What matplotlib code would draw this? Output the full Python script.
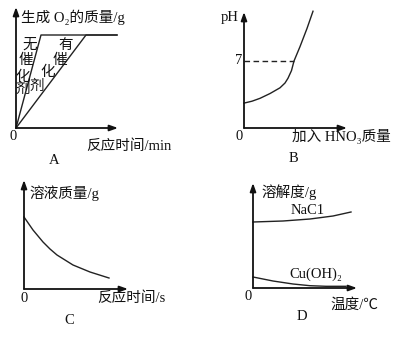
import matplotlib
matplotlib.use('Agg')
from matplotlib import pyplot as plt

plt.rcParams['font.family'] = ['Liberation Serif', 'Noto Sans CJK SC', 'DejaVu Sans']

W, H = 399, 340

# A: O2 mass vs time, with / without catalyst
t_no_cat = [0, 2.5, 10.1]
m_no_cat = [0, 9.3, 9.3]
t_cat = [0, 7.0, 10.1]
m_cat = [0, 9.3, 9.3]

# B: pH vs added HNO3
hno3 = [0, 0.8, 1.6, 2.6, 3.6, 4.1, 4.4, 4.75, 5.0, 5.6, 6.3, 6.9]
ph = [2.6, 2.8, 3.1, 3.6, 4.2, 4.7, 5.2, 6.0, 7.0, 8.5, 10.4, 12.2]
ph_mark = 7

# C: solution mass vs time
t_c = [0, 0.9, 1.9, 2.6, 3.3, 4.9, 6.6, 8.5]
sol_mass = [7.2, 5.9, 4.7, 4.0, 3.4, 2.4, 1.7, 1.1]

# D: solubility vs temperature
temp_nacl = [0, 3.0, 5.7, 8.0, 9.8]
sol_nacl = [6.6, 6.7, 6.9, 7.2, 7.6]
temp_cu = [0, 2.0, 4.0, 5.7, 7.3, 9.3]
sol_cu = [1.1, 0.7, 0.4, 0.23, 0.17, 0.17]

fig = plt.figure(figsize=(W / 100, H / 100), dpi=100)
fig.patch.set_facecolor('white')

FS = 10.5


def panel(ox, oy, xlen, ylen, sx=10, sy=10):
    # full-figure transparent axes with origin at pixel (ox, oy)
    ax = fig.add_axes([0, 0, 1, 1])
    ax.set_xlim(-ox / sx, (W - ox) / sx)
    ax.set_ylim(-(H - oy) / sy, oy / sy)
    ax.axis('off')
    ax.patch.set_alpha(0)
    ap = dict(arrowstyle='-|>,head_length=0.7,head_width=0.25', lw=1.3,
              color='#111111', shrinkA=0, shrinkB=0, mutation_scale=7)
    ax.annotate('', xy=(xlen / sx, 0), xytext=(0, 0), arrowprops=ap)
    ax.annotate('', xy=(0, ylen / sy), xytext=(0, 0), arrowprops=ap)
    return ax


def label(x, y, s, ha='left', size=FS):
    fig.text(x / W, 1 - y / H, s, ha=ha, va='center', fontsize=size, color='#111111')


lc = '#222222'

# panel A
axA = panel(16, 128, 102, 121)
axA.plot(t_no_cat, m_no_cat, color=lc, lw=1.0)
axA.plot(t_cat, m_cat, color=lc, lw=1.0)
label(21, 17, '生成 O₂的质量/g')
label(13, 137, '0', ha='center')
label(86, 146, '反应时间/min')
label(54, 160, 'A', ha='center')
for x, y, s in [(30, 45, '无'), (26, 60, '催'), (23, 77, '化'), (23, 89, '剂'),
                (66, 46, '有'), (60, 60, '催'), (48, 72, '化'), (37, 86, '剂')]:
    label(x, y, s, ha='center')

# panel B
axB = panel(244, 128, 103, 116, sy=67 / ph_mark)
axB.plot(hno3, ph, color=lc, lw=1.0)
axB.plot([0, hno3[ph.index(ph_mark)]], [ph_mark, ph_mark], color=lc, lw=1.0, ls=(0, (4, 2.5)))
axB.text(-0.5, ph_mark, str(ph_mark), ha='center', va='center', fontsize=FS, color='#111111')
label(230, 18, 'pH', ha='center')
label(239, 137, '0', ha='center')
label(292, 137, '加入 HNO₃质量')
label(293, 159, 'B', ha='center')

# panel C
axC = panel(24, 289, 104, 109)
axC.plot(t_c, sol_mass, color=lc, lw=1.0)
label(29, 193, '溶液质量/g')
label(24, 298, '0', ha='center')
label(97, 298, '反应时间/s')
label(69, 320, 'C', ha='center')

# panel D
axD = panel(253, 288, 104, 105)
axD.plot(temp_nacl, sol_nacl, color=lc, lw=1.0)
axD.plot(temp_cu, sol_cu, color=lc, lw=1.0)
label(262, 192, '溶解度/g')
label(291, 211, 'NaC1')
label(289, 274, 'Cu(OH)₂')
label(248, 297, '0', ha='center')
label(330, 305, '温度/℃')
label(302, 317, 'D', ha='center')

fig.savefig('out.png', dpi=100, facecolor='white')
